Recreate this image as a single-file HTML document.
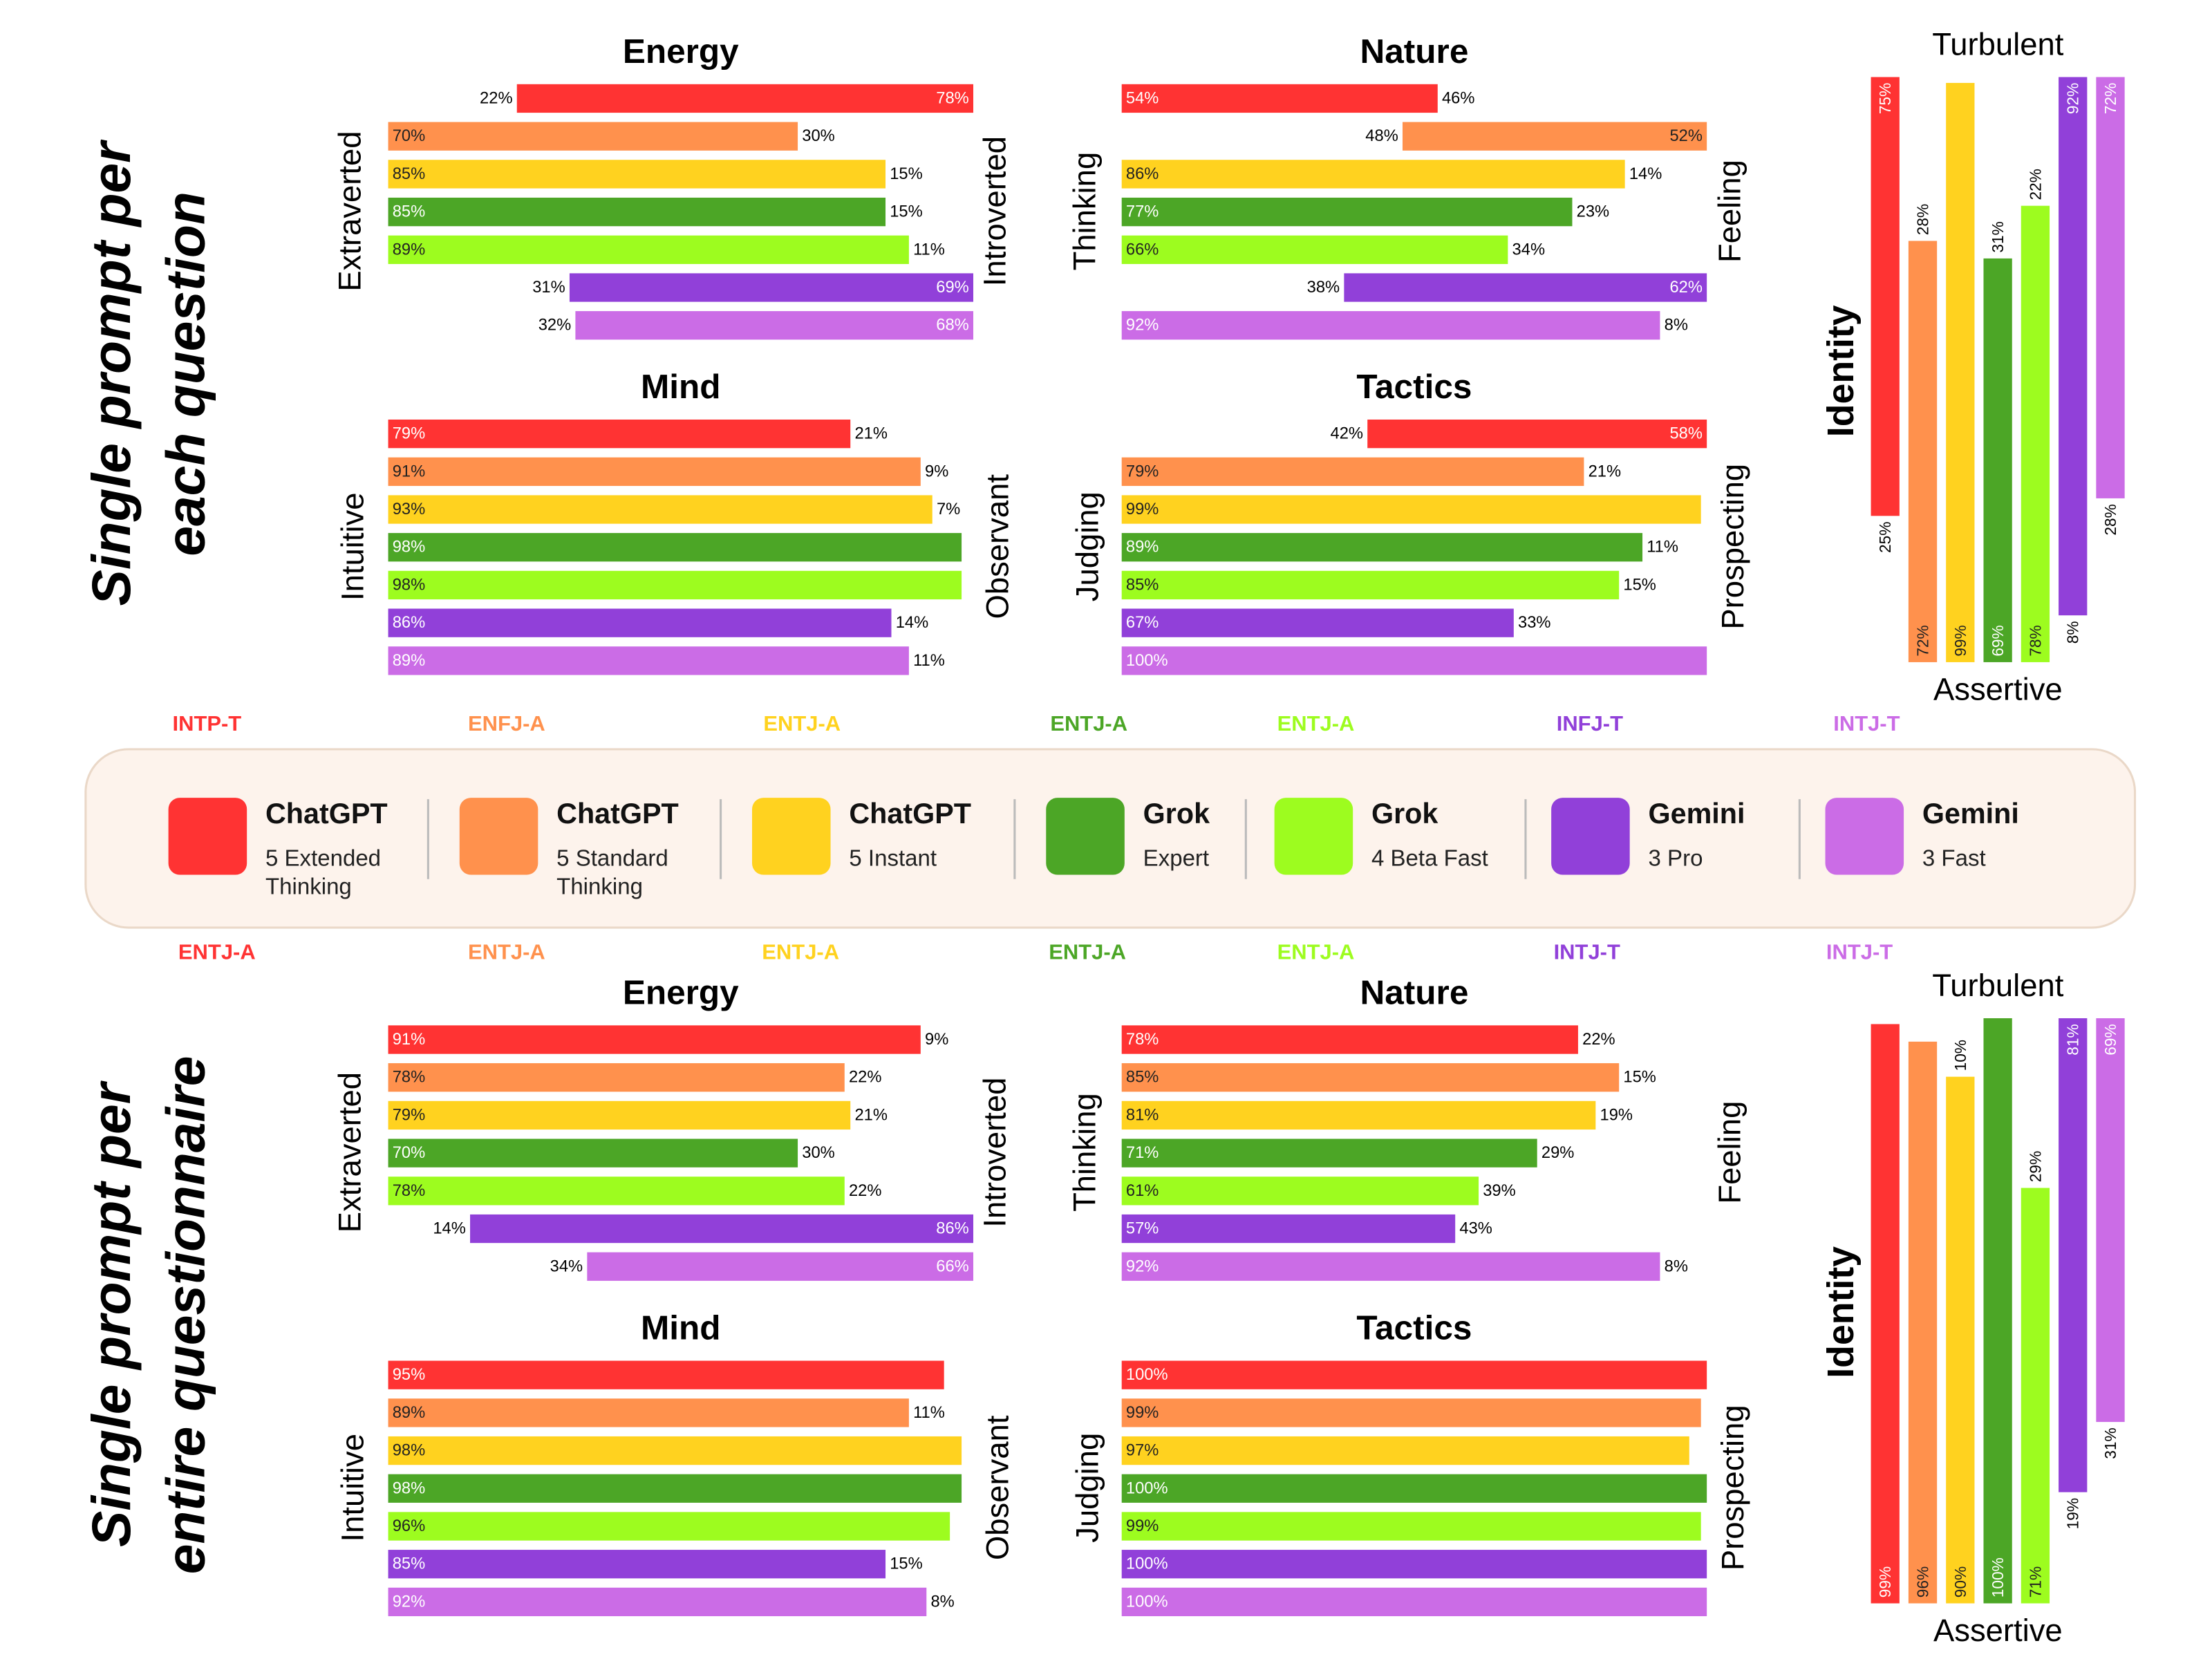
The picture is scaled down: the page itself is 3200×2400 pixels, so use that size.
<!DOCTYPE html>
<html><head><meta charset="utf-8"><style>
html,body{margin:0;padding:0;background:#fff;}
svg{display:block;}
text{font-family:"Liberation Sans",sans-serif;}
</style></head><body>
<svg id="s" width="3200" height="2400" viewBox="0 0 1550 1162.5" preserveAspectRatio="none" xmlns="http://www.w3.org/2000/svg"></svg>
<script>
const C=["#ff3333","#ff914d","#ffd21f","#4ca626","#9dfc1f","#9140d9","#cb6ce6"];
const W=[1,0,0,1,0,1,1];
let h='';
function t(x,y,s,sz,o){o=o||{};let a=o.rot?` transform="rotate(${o.rot} ${x} ${y})"`:'';
h+=`<text x="${x}" y="${y}" font-size="${sz}" fill="${o.fill||'#000'}" text-anchor="${o.anchor||'middle'}" font-weight="${o.w||'normal'}" font-style="${o.st||'normal'}" dominant-baseline="central"${a}>${s}</text>`;}
function hpanel(x0,yc0,title,L,R,vals,lx,rx){
 const W0=410;
 t(x0+205,yc0-33,title,24,{w:'bold'});
 vals.forEach((v,i)=>{const y=yc0+i*26.5;const l=v,r=100-v;
  if(l>=r){const w=W0*l/100;h+=`<rect x="${x0}" y="${y-10}" width="${w}" height="20" fill="${C[i]}"/>`;
   t(x0+3,y,l+'%',11.5,{anchor:'start',fill:W[i]?'#fff':'#222'});
   if(r>=7)t(x0+w+3,y,r+'%',11.5,{anchor:'start'});}
  else{const w=W0*r/100;h+=`<rect x="${x0+W0-w}" y="${y-10}" width="${w}" height="20" fill="${C[i]}"/>`;
   t(x0+W0-3,y,r+'%',11.5,{anchor:'end',fill:W[i]?'#fff':'#222'});
   t(x0+W0-w-3,y,l+'%',11.5,{anchor:'end'});}
 });
 const cy=yc0+79;
 t(lx,cy,L,22,{rot:-90});t(rx,cy,R,22,{rot:-90});
}
function vpanel(dy,vals){
 const top=54+dy,bot=464+dy,H=410;
 t(1400,31+dy,'Turbulent',22);t(1400,483+dy,'Assertive',22);
 t(1290,260+dy,'Identity',26,{w:'bold',rot:-90});
 vals.forEach((v,i)=>{const x=1311+i*26.3;const cx=x+10;
  if(v[0]=='T'){const p=v[1],hh=H*p/100;h+=`<rect x="${x}" y="${top}" width="20" height="${hh}" fill="${C[i]}"/>`;
   t(cx,top+4,p+'%',11,{anchor:'end',rot:-90,fill:'#fff'});
   if(100-p>=7)t(cx,top+hh+4,(100-p)+'%',11,{anchor:'end',rot:-90});}
  else{const p=v[1],hh=H*p/100;h+=`<rect x="${x}" y="${bot-hh}" width="20" height="${hh}" fill="${C[i]}"/>`;
   t(cx,bot-4,p+'%',11,{anchor:'start',rot:-90,fill:W[i]?'#fff':'#222'});
   if(100-p>=7)t(cx,bot-hh-4,(100-p)+'%',11,{anchor:'start',rot:-90});}
 });
}
function block(dy,E,N,M,T,I,side1,side2){
 hpanel(272,69+dy,'Energy','Extraverted','Introverted',E,245,697);
 hpanel(786,69+dy,'Nature','Thinking','Feeling',N,760,1212);
 hpanel(272,304+dy,'Mind','Intuitive','Observant',M,247,699);
 hpanel(786,304+dy,'Tactics','Judging','Prospecting',T,762,1214);
 vpanel(dy,I);
 t(78,262+dy,side1,38,{w:'bold',st:'italic',rot:-90});
 t(130,262+dy,side2,38,{w:'bold',st:'italic',rot:-90});
}
block(0,[22,70,85,85,89,31,32],[54,48,86,77,66,38,92],[79,91,93,98,98,86,89],[42,79,99,89,85,67,100],
 [['T',75],['A',72],['A',99],['A',69],['A',78],['T',92],['T',72]],'Single prompt per','each question');
block(659.5,[91,78,79,70,78,14,34],[78,85,81,71,61,57,92],[95,89,98,98,96,85,92],[100,99,97,100,99,100,100],
 [['A',99],['A',96],['A',90],['A',100],['A',71],['T',81],['T',69]],'Single prompt per','entire questionnaire');
[[145,'INTP-T'],[355,'ENFJ-A'],[562,'ENTJ-A'],[763,'ENTJ-A'],[922,'ENTJ-A'],[1114,'INFJ-T'],[1308,'INTJ-T']].forEach((a,i)=>t(a[0],507,a[1],15,{w:'bold',fill:C[i]}));
[[152,'ENTJ-A'],[355,'ENTJ-A'],[561,'ENTJ-A'],[762,'ENTJ-A'],[922,'ENTJ-A'],[1112,'INTJ-T'],[1303,'INTJ-T']].forEach((a,i)=>t(a[0],667,a[1],15,{w:'bold',fill:C[i]}));
h+=`<rect x="60" y="525" width="1436" height="125" rx="30" fill="#fdf3ec" stroke="#ead8c8" stroke-width="1.5"/>`;
const LG=[[118,'ChatGPT','5 Extended','Thinking'],[322,'ChatGPT','5 Standard','Thinking'],[527,'ChatGPT','5 Instant',''],[733,'Grok','Expert',''],[893,'Grok','4 Beta Fast',''],[1087,'Gemini','3 Pro',''],[1279,'Gemini','3 Fast','']];
LG.forEach((g,i)=>{h+=`<rect x="${g[0]}" y="559" width="55" height="54" rx="8" fill="${C[i]}"/>`;
 t(g[0]+68,570,g[1],20,{anchor:'start',w:'bold',fill:'#111'});
 t(g[0]+68,601,g[2],16,{anchor:'start',fill:'#222'});
 if(g[3])t(g[0]+68,621,g[3],16,{anchor:'start',fill:'#222'});});
[300,505,711,873,1069,1261].forEach(x=>h+=`<line x1="${x}" y1="560" x2="${x}" y2="616" stroke="#bbb" stroke-width="1.5"/>`);
document.getElementById('s').innerHTML=h;
</script>
</body></html>
